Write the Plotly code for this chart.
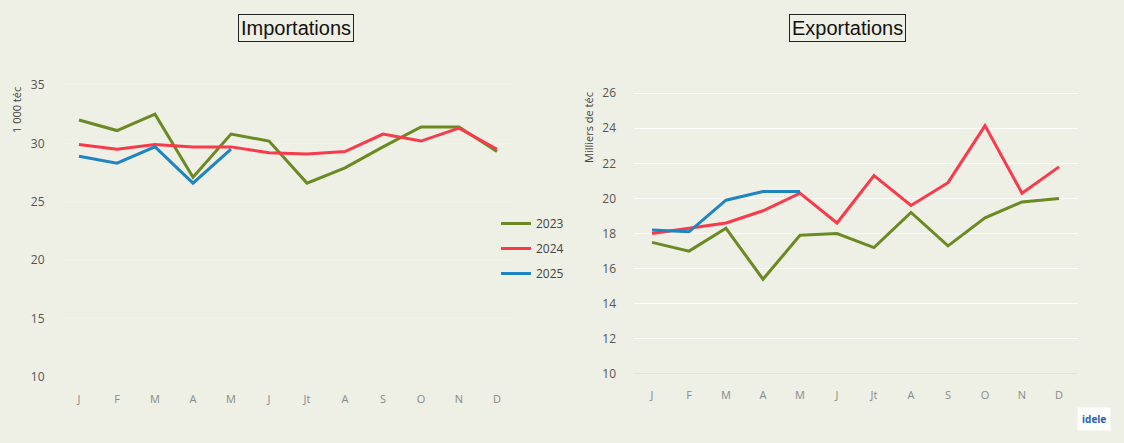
import plotly.graph_objects as go

months = ["J", "F", "M", "A", "M ", "J ", "Jt", "A ", "S", "O", "N", "D"]
months_exp = ["J", "F", "M", "A", "M ", "J ", "Jt", "A ", "S", "O", "N", "D"]
month_labels_imp = ["J", "F", "M", "A", "M", "J", "Jt", "A", "S", "O", "N", "D"]
month_labels_exp = ["J", "F", "M", "A", "M", "J", "Jt", "A", "S", "O", "N", "D"]

imp_2023 = [32.0, 31.1, 32.5, 27.1, 30.8, 30.2, 26.6, 27.9, 29.7, 31.4, 31.4, 29.3]
imp_2024 = [29.9, 29.5, 29.9, 29.7, 29.7, 29.2, 29.1, 29.3, 30.8, 30.2, 31.3, 29.5]
imp_2025 = [28.9, 28.3, 29.7, 26.6, 29.5]

exp_2023 = [17.5, 17.0, 18.3, 15.4, 17.9, 18.0, 17.2, 19.2, 17.3, 18.9, 19.8, 20.0]
exp_2024 = [18.0, 18.3, 18.6, 19.3, 20.3, 18.6, 21.3, 19.6, 20.9, 24.15, 20.3, 21.8]
exp_2025 = [18.2, 18.1, 19.9, 20.4, 20.4]

years = ["2023", "2024", "2025"]
colors = ["#6b8a23", "#f93a4a", "#1f84c2"]

BG = "#eeefe5"
W, H = 1124, 443

fig = go.Figure()

imp_series = [imp_2023, imp_2024, imp_2025]
exp_series = [exp_2023, exp_2024, exp_2025]

for name, col, vals in zip(years, colors, imp_series):
    fig.add_trace(go.Scatter(x=months[:len(vals)], y=vals, mode="lines", name=name,
                             line=dict(color=col, width=3), xaxis="x", yaxis="y",
                             legendgroup=name))
for name, col, vals in zip(years, colors, exp_series):
    fig.add_trace(go.Scatter(x=months_exp[:len(vals)], y=vals, mode="lines", name=name,
                             line=dict(color=col, width=3), xaxis="x2", yaxis="y2",
                             legendgroup=name, showlegend=False))

tickfont_y = dict(family="Open Sans", size=12, color="#555555")
tickfont_x = dict(family="Open Sans", size=11, color="#8a8a8a")

fig.update_layout(
    width=W, height=H,
    paper_bgcolor=BG, plot_bgcolor=BG,
    margin=dict(l=0, r=0, t=0, b=0, autoexpand=False),
    showlegend=True,
    legend=dict(x=496 / W, y=1 - 209 / H, xanchor="left", yanchor="top",
                bgcolor="rgba(0,0,0,0)", font=dict(family="Open Sans", size=12, color="#444444"),
                tracegroupgap=6, itemwidth=30),
    xaxis=dict(domain=[60 / W, 516 / W], type="category", categoryorder="array",
               categoryarray=months, tickvals=months, ticktext=month_labels_imp,
               range=[-0.5, 11.5], showgrid=False, zeroline=False, showline=False,
               ticks="outside", ticklen=12, tickcolor="rgba(0,0,0,0)", tickfont=tickfont_x,
               anchor="y", automargin=False),
    yaxis=dict(domain=[1 - 377 / H, 1 - 73.3 / H], range=[10, 36], tickvals=[10, 15, 20, 25, 30, 35],
               showgrid=True, gridcolor="rgba(255,255,255,0.18)", zeroline=False, showline=False,
               ticks="outside", ticklen=12, tickcolor="rgba(0,0,0,0)", tickfont=tickfont_y,
               anchor="x", automargin=False),
    xaxis2=dict(domain=[633.5 / W, 1077.5 / W], type="category", categoryorder="array",
                categoryarray=months_exp, tickvals=months_exp, ticktext=month_labels_exp,
                range=[-0.5, 11.5], showgrid=False, zeroline=False, showline=False,
                ticks="outside", ticklen=11, tickcolor="rgba(0,0,0,0)", tickfont=tickfont_x,
                anchor="y2", automargin=False),
    yaxis2=dict(domain=[1 - 374 / H, 1 - 75.6 / H], range=[10, 27], tickvals=list(range(10, 27, 2)),
                showgrid=True, gridcolor="rgba(255,255,255,0.85)", zeroline=False, showline=False,
                ticks="outside", ticklen=14, tickcolor="rgba(0,0,0,0)", tickfont=tickfont_y,
                anchor="x2", automargin=False),
)

# baseline on export chart
fig.add_shape(type="line", xref="x2 domain", yref="y2", x0=0, x1=1, y0=10, y1=10,
              line=dict(color="#d6d7cc", width=1))

title_font = dict(family="Liberation Sans Narrow, Arial Narrow, sans-serif", size=20, color="#111111")
fig.add_annotation(text="Importations", xref="paper", yref="paper", x=296 / W, y=1 - 28 / H,
                   xanchor="center", yanchor="middle",
                   showarrow=False, font=title_font, bordercolor="#222222", borderwidth=1,
                   borderpad=2, bgcolor="rgba(0,0,0,0)")
fig.add_annotation(text="Exportations", xref="paper", yref="paper", x=847 / W, y=1 - 28 / H,
                   xanchor="center", yanchor="middle",
                   showarrow=False, font=title_font, bordercolor="#222222", borderwidth=1,
                   borderpad=2, bgcolor="rgba(0,0,0,0)")

axis_title_font = dict(family="Open Sans", size=11, color="#444444")
fig.add_annotation(text="1 000 téc", xref="paper", yref="paper", x=17 / W, y=1 - 110 / H,
                   xanchor="center", yanchor="middle",
                   showarrow=False, textangle=-90, font=axis_title_font)
fig.add_annotation(text="Milliers de téc", xref="paper", yref="paper", x=589 / W, y=1 - 128 / H,
                   xanchor="center", yanchor="middle",
                   showarrow=False, textangle=-90, font=axis_title_font)

# logo placeholder
fig.add_annotation(text="<b>idele</b>", xref="paper", yref="paper", x=1094 / W, y=1 - 419 / H,
                   xanchor="center", yanchor="middle",
                   showarrow=False, font=dict(family="Open Sans", size=10, color="#1f5fae"),
                   bgcolor="white", borderpad=4)

fig.write_html("out.html", config={"displayModeBar": False},
               post_script="document.body.style.margin='0';document.body.style.overflow='hidden';")
